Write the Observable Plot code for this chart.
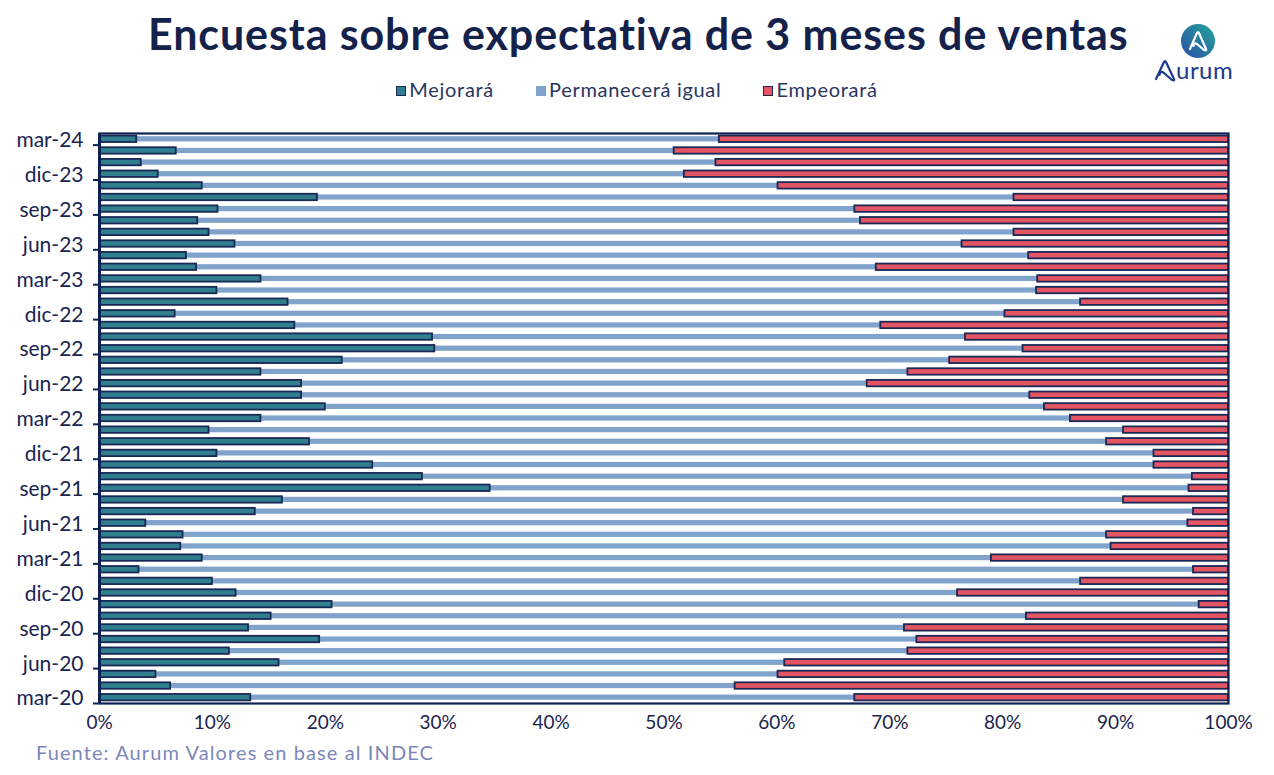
<!DOCTYPE html>
<html>
<head>
<meta charset="utf-8">
<script src="https://cdn.jsdelivr.net/npm/d3@7"></script>
<script src="https://cdn.jsdelivr.net/npm/@observablehq/plot@0.6"></script>
<style>
  html, body { margin: 0; padding: 0; background: #fff; }
  body { width: 1274px; height: 775px; position: relative; overflow: hidden; font-family: "Lato", "Noto Sans", sans-serif; }
  #title { position: absolute; left: 148px; top: 8px; white-space: nowrap; font-size: 43px; font-weight: 700; color: #14224b; letter-spacing: 0.9px; }
  #legend { position: absolute; top: 77px; left: 0; width: 1274px; text-align: center; font-size: 20px; color: #2a3560; letter-spacing: 0.7px; }
  #legend .item { display: inline-block; margin: 0 21px; }
  #legend .sw { display: inline-block; width: 10px; height: 10px; margin-right: 3px; box-sizing: border-box; vertical-align: 1px; }
  #chart { position: absolute; left: 0; top: 120px; }
  #source { position: absolute; left: 36px; top: 740px; font-size: 20px; color: #7d87b9; letter-spacing: 1.1px; }
  #logo { position: absolute; left: 1150px; top: 22px; width: 100px; height: 62px; }
</style>
</head>
<body>
<div id="title">Encuesta sobre expectativa de 3 meses de ventas</div>
<div id="legend"></div>
<div id="chart"></div>
<div id="source">Fuente: Aurum Valores en base al INDEC</div>
<svg id="logo" viewBox="0 0 100 62">
  <defs>
    <linearGradient id="lg" x1="0" y1="1" x2="1" y2="0">
      <stop offset="0" stop-color="#2a4fa8"/>
      <stop offset="1" stop-color="#25a59a"/>
    </linearGradient>
  </defs>
  <circle cx="48" cy="19" r="17" fill="url(#lg)"/>
  <path d="M40 27 L47 11 Q48 9 49 11 L56 27 Q57 29 54 28 L47 22 Q44 20 43.5 24" fill="none" stroke="#fff" stroke-width="2.2" stroke-linejoin="round" stroke-linecap="round"/>
  <path d="M6 57 L14 40 Q15 38 16 40 L24 57 Q25 59 22 58 L14 51 Q10 48 9.5 53" fill="none" stroke="#1e3a8a" stroke-width="2.2" stroke-linejoin="round" stroke-linecap="round"/>
  <text x="26" y="57" font-family="Lato, sans-serif" font-size="24" fill="#1e3a8a" letter-spacing="0.5">urum</text>
</svg>
<script>
// Months, chronological (mar-20 … mar-24)
const months = ["mar-20","abr-20","may-20","jun-20","jul-20","ago-20","sep-20","oct-20","nov-20","dic-20",
  "ene-21","feb-21","mar-21","abr-21","may-21","jun-21","jul-21","ago-21","sep-21","oct-21","nov-21","dic-21",
  "ene-22","feb-22","mar-22","abr-22","may-22","jun-22","jul-22","ago-22","sep-22","oct-22","nov-22","dic-22",
  "ene-23","feb-23","mar-23","abr-23","may-23","jun-23","jul-23","ago-23","sep-23","oct-23","nov-23","dic-23",
  "ene-24","feb-24","mar-24"];

// Shares (%)
const mejorara = [13.4,6.3,5.0,15.9,11.5,19.5,13.2,15.2,20.6,12.1,
  10.0,3.5,9.1,7.2,7.4,4.1,13.8,16.2,34.6,28.6,24.2,10.4,
  18.6,9.7,14.3,20.0,17.9,17.9,14.3,21.5,29.7,29.5,17.3,6.7,
  16.7,10.4,14.3,8.6,7.7,12.0,9.7,8.7,10.5,19.3,9.1,5.2,
  3.7,6.8,3.3];
const permanecera = [53.5,50.0,55.1,44.8,60.1,52.9,58.1,66.9,76.8,63.9,
  76.9,93.4,69.9,82.4,81.8,92.3,83.1,74.5,61.9,68.2,69.2,83.0,
  70.6,81.0,71.7,63.7,64.5,50.1,57.3,53.8,52.1,47.2,51.9,73.5,
  70.2,72.6,68.8,60.2,74.6,64.4,71.3,58.7,56.4,61.7,51.0,46.6,
  50.9,44.1,51.6];
const empeorara = [33.1,43.7,39.9,39.3,28.4,27.6,28.7,17.9,2.6,24.0,
  13.1,3.1,21.0,10.4,10.8,3.6,3.1,9.3,3.5,3.2,6.6,6.6,
  10.8,9.3,14.0,16.3,17.6,32.0,28.4,24.7,18.2,23.3,30.8,19.8,
  13.1,17.0,16.9,31.2,17.7,23.6,19.0,32.6,33.1,19.0,39.9,48.2,
  45.4,49.1,45.1];

const seriesNames = ["Mejorará", "Permanecerá igual", "Empeorará"];
const seriesColors = ["#2f7f8f", "#7fa3cb", "#e35562"];
const xTicks = [0,10,20,30,40,50,60,70,80,90,100];
const labeledMonths = months.filter((m, i) => i % 3 === 0);

// stacked table built from the series arrays
const rows = [];
months.forEach((m, i) => {
  const vals = [mejorara[i], permanecera[i], empeorara[i]];
  const total = vals[0] + vals[1] + vals[2];
  let acc = 0;
  vals.forEach((v, j) => {
    const x1 = acc / total * 100;
    acc += v;
    const x2 = acc / total * 100;
    rows.push({month: m, serie: seriesNames[j], value: v, x1, x2});
  });
});

// legend
const legend = document.getElementById("legend");
seriesNames.forEach((s, i) => {
  const it = document.createElement("span");
  it.className = "item";
  const sw = document.createElement("span");
  sw.className = "sw";
  sw.style.background = seriesColors[i];
  if (i !== 1) sw.style.border = "1.5px solid #1b2a55";
  it.appendChild(sw);
  it.appendChild(document.createTextNode(s));
  legend.appendChild(it);
});

const navy = "#0f2152";
const chart = Plot.plot({
  width: 1274,
  height: 625,
  marginLeft: 99,
  marginRight: 46,
  marginTop: 13,
  marginBottom: 42,
  style: {fontFamily: "Lato, 'Noto Sans', sans-serif", fontSize: "18px", color: "#1a2450", background: "transparent"},
  x: {domain: [0, 100], ticks: xTicks, tickFormat: d => d + "%"},
  y: {domain: months.slice().reverse(), padding: 0},
  color: {domain: seriesNames, range: seriesColors},
  marks: [
    Plot.barX(rows.filter(d => d.serie === seriesNames[1]), {
      x1: "x1", x2: "x2", y: "month", fill: seriesColors[1], insetTop: 3.2, insetBottom: 3.2}),
    Plot.barX(rows.filter(d => d.serie !== seriesNames[1]), {
      x1: "x1", x2: "x2", y: "month", fill: "serie", stroke: "#1b2856", strokeWidth: 1.8, insetTop: 2.6, insetBottom: 2.6}),
    Plot.frame({stroke: navy, strokeWidth: 2.2}),
    Plot.ruleX([0], {stroke: navy, strokeWidth: 3}),
    Plot.axisX({ticks: xTicks, tickSize: 0, tickPadding: 12, tickFormat: d => d + "%", label: null, fill: "#1a2450", fontSize: 19}),
    Plot.axisY({ticks: labeledMonths, tickSize: 0, tickPadding: 16, label: null, fill: "#1a2450", fontSize: 21, dy: 1}),
    Plot.axisY({ticks: labeledMonths, tickSize: 6, tickFormat: () => "", label: null, stroke: navy, strokeWidth: 2, dy: 5.8})
  ]
});
document.getElementById("chart").appendChild(chart);
</script>
</body>
</html>
